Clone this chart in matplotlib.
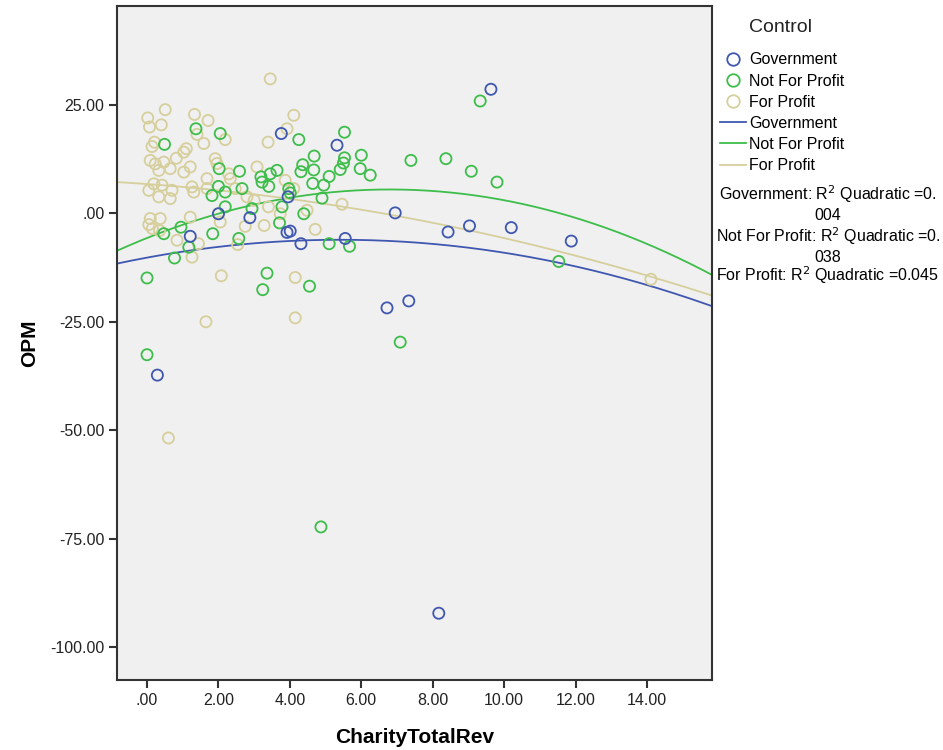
import numpy as np
import matplotlib.pyplot as plt
from matplotlib.lines import Line2D

# Government
gov_x = [3.76, 3.95, 2.88, 1.21, 2.00, 3.92, 4.01, 4.31, 0.29, 9.63, 5.32, 6.95,
         8.43, 9.03, 5.55, 6.72, 7.33, 10.20, 11.88, 8.17]
gov_y = [18.4, 3.8, -1.0, -5.3, -0.1, -4.4, -4.1, -7.0, -37.3, 28.6, 15.7, 0.1,
         -4.3, -2.9, -5.8, -21.8, -20.2, -3.3, -6.4, -92.2]

# Not For Profit
nfp_x = [1.37, 2.05, 0.49, 4.25, 2.02, 2.59, 3.19, 3.45, 3.64, 3.22, 3.41, 4.36,
         4.31, 4.67, 4.64, 2.00, 1.82, 2.19, 2.66, 2.19, 2.94, 3.78, 3.97, 4.01,
         4.39, 0.95, 0.47, 1.84, 1.17, 0.77, 0.00, 2.57, 3.36, 3.24, 4.55, 3.71,
         0.00, 9.33, 5.53, 4.68, 6.00, 5.53, 5.50, 5.41, 5.97, 6.25, 5.10, 4.95,
         4.90, 7.39, 8.37, 9.08, 9.80, 5.10, 5.67, 7.09, 11.53, 4.87]
nfp_y = [19.5, 18.4, 15.9, 17.0, 10.3, 9.7, 8.4, 9.1, 9.9, 7.2, 6.2, 11.2,
         9.6, 10.0, 6.9, 6.2, 4.1, 4.9, 5.7, 1.5, 1.1, 1.5, 5.7, 4.7,
         -0.1, -3.2, -4.7, -4.7, -7.8, -10.3, -14.9, -5.8, -13.8, -17.6, -16.8, -2.2,
         -32.6, 25.9, 18.7, 13.2, 13.4, 12.8, 11.6, 10.1, 10.3, 8.8, 8.5, 6.5,
         3.5, 12.2, 12.6, 9.7, 7.2, -7.0, -7.6, -29.7, -11.1, -72.3]

# For Profit
fp_x = [3.45, 0.51, 0.02, 0.07, 0.40, 1.33, 1.71, 1.40, 1.59, 4.11, 3.92, 3.39,
        2.19, 0.14, 0.21, 0.09, 0.23, 0.47, 0.33, 0.65, 0.82, 1.03, 1.10, 1.03,
        1.21, 1.91, 1.96, 1.68, 2.29, 2.33, 0.19, 0.42, 0.05, 0.33, 0.70, 0.65,
        1.26, 1.31, 1.68, 2.47, 2.80, 3.08, 3.87, 4.11, 4.48, 3.73, 0.09, 0.37,
        1.21, 0.05, 0.15, 0.35, 0.84, 1.26, 1.44, 2.05, 2.75, 3.28, 2.54, 2.08,
        4.15, 1.65, 4.15, 0.60, 5.46, 4.71, 14.11, 3.00, 3.40, 2.00]
fp_y = [31.0, 23.9, 22.0, 19.9, 20.4, 22.8, 21.4, 18.2, 16.1, 22.6, 19.5, 16.4,
        17.0, 15.4, 16.4, 12.2, 11.4, 11.8, 9.9, 10.3, 12.7, 14.1, 14.9, 9.5,
        10.7, 12.6, 11.5, 8.0, 9.1, 8.0, 6.8, 6.5, 5.3, 3.8, 5.3, 3.4,
        6.1, 4.9, 5.7, 5.7, 3.8, 10.7, 7.6, 5.7, 0.7, -0.1, -1.2, -1.2,
        -0.9, -2.6, -3.5, -4.0, -6.2, -10.1, -7.0, -2.0, -3.0, -2.8, -7.2, -14.4,
        -14.8, -25.0, -24.1, -51.8, 2.1, -3.7, -15.2, 3.0, 1.5, -0.1]

# quadratic fit coefficients (c2, c1, c0) as drawn
gov_fit = [-0.141, 1.523, -10.21]
nfp_fit = [-0.242, 3.291, -5.69]
fp_fit = [-0.0651, -0.595, 6.75]

r2_lines = ["Government: R$^2$ Quadratic =0.", "004",
            "Not For Profit: R$^2$ Quadratic =0.", "038",
            "For Profit: R$^2$ Quadratic =0.045"]

c_gov = "#3f57b0"
c_nfp = "#3dbd4a"
c_fp = "#d6cf9c"

plt.rcParams['font.family'] = ['Liberation Sans', 'DejaVu Sans']

fig = plt.figure(figsize=(9.43, 7.5), dpi=100)
ax = fig.add_axes([0.1241, 0.0933, 0.6309, 0.8987])
ax.set_facecolor("#f0f0f0")

xlim = (-0.84, 15.82)
ylim = (-107.6, 47.8)

xx = np.linspace(xlim[0], xlim[1], 300)
for fit, c in [(gov_fit, c_gov), (nfp_fit, c_nfp), (fp_fit, c_fp)]:
    ax.plot(xx, np.polyval(fit, xx), color=c, lw=1.3, zorder=2)

for xs, ys, c in [(fp_x, fp_y, c_fp), (nfp_x, nfp_y, c_nfp), (gov_x, gov_y, c_gov)]:
    ax.scatter(xs, ys, s=64, facecolors='none', edgecolors=c, linewidths=1.3, zorder=3)

ax.set_xlim(xlim)
ax.set_ylim(ylim)
ax.set_xticks(np.arange(0, 15, 2))
ax.set_yticks([25, 0, -25, -50, -75, -100])

def fmt(v):
    s = f"{v:.2f}"
    if s.startswith("0"):
        s = s[1:]
    if s.startswith("-0"):
        s = "-" + s[2:]
    return s

ax.set_xticklabels([fmt(v) for v in ax.get_xticks()])
ax.set_yticklabels([fmt(v) for v in ax.get_yticks()])
ax.tick_params(direction='out', length=6, width=1.5, color="#333333",
               labelsize=11.5, labelcolor="#222222", pad=3)
for sp in ax.spines.values():
    sp.set_color("#333333")
    sp.set_linewidth(1.5)

ax.set_xlabel("CharityTotalRev", fontsize=15, fontweight='bold', labelpad=15)
ax.set_ylabel("OPM", fontsize=15, fontweight='bold', labelpad=8)

handles = [
    Line2D([], [], ls='none', marker='o', ms=9, mfc='none', mec=c_gov, mew=1.3),
    Line2D([], [], ls='none', marker='o', ms=9, mfc='none', mec=c_nfp, mew=1.3),
    Line2D([], [], ls='none', marker='o', ms=9, mfc='none', mec=c_fp, mew=1.3),
    Line2D([], [], color=c_gov, lw=1.3),
    Line2D([], [], color=c_nfp, lw=1.3),
    Line2D([], [], color=c_fp, lw=1.3),
]
labels = ["Government", "Not For Profit", "For Profit"] * 2
fig.text(0.828, 0.9627, "Control", ha='center', va='center', fontsize=14,
         color="#222222")
fig.legend(handles, labels, loc='upper left',
           bbox_to_anchor=(0.757, 0.9387), frameon=False, fontsize=11.5,
           handlelength=1.6, handletextpad=0.2,
           labelspacing=0.385, borderaxespad=0)

base_px = [200, 220, 242, 262, 281]
for t, b in zip(r2_lines, base_px):
    fig.text(0.878, 1 - b / 750, t, ha='center', va='baseline', fontsize=11.5)

fig.savefig("out.png", dpi=100)
